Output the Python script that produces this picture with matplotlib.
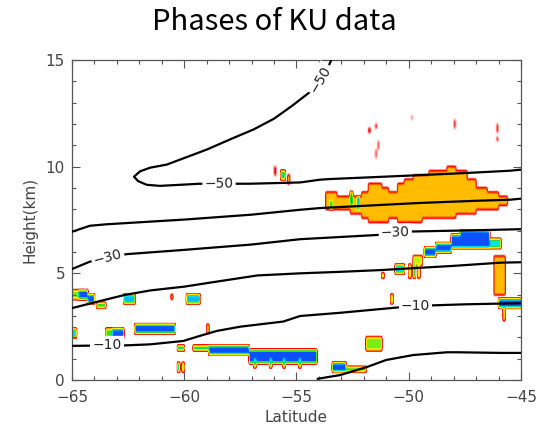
import numpy as np
import matplotlib
matplotlib.use("Agg")
import matplotlib.pyplot as plt
from matplotlib.colors import LinearSegmentedColormap
from matplotlib.ticker import MultipleLocator

# ---------------------------------------------------------------------------
# Phase field: rectangles (lat0, lat1, h0, h1, phase value)
# phase value: 0.3 = ice (orange), 1.0 = liquid (blue), in-between = mixed
# ---------------------------------------------------------------------------
blob_lat0 = [-65.0, -64.7, -64.3, -63.9, -62.7, -60.6, -59.9, -65.0,
             -63.5, -63.2, -62.2, -59.0, -60.3, -59.6, -58.9, -57.1,
             -60.3, -60.1, -53.4, -52.8, -51.9, -51.2, -50.8, -50.6,
             -50.0, -49.8, -49.6, -49.8, -49.3, -48.8, -48.1, -47.7,
             -46.4, -46.2, -46.0, -45.8, -56.0, -55.7, -55.4,
             -51.5, -51.8, -51.4, -51.5, -48.0, -46.1, -46.1, -49.9,
             -53.5, -52.6, -52.3, -56.9, -56.2, -55.6, -54.9]
blob_lat1 = [-64.7, -64.3, -64.0, -63.5, -62.2, -60.5, -59.3, -64.8,
             -63.2, -62.7, -60.4, -58.9, -60.0, -58.9, -57.1, -54.1,
             -60.2, -60.0, -52.8, -51.9, -51.2, -51.1, -50.7, -50.2,
             -49.9, -49.7, -49.5, -49.4, -48.8, -48.1, -47.7, -46.4,
             -45.9, -45.7, -45.0, -45.7, -55.9, -55.5, -55.3,
             -51.4, -51.7, -51.3, -51.4, -47.9, -46.0, -46.0, -49.8,
             -53.4, -52.5, -52.2, -56.8, -56.1, -55.5, -54.8]
blob_h0 = [3.90, 3.90, 3.65, 3.40, 3.60, 3.80, 3.60, 2.00,
           2.00, 2.00, 2.20, 2.20, 1.40, 1.40, 1.20, 0.80,
           0.40, 0.40, 0.40, 0.40, 1.40, 4.80, 3.60, 5.00,
           4.80, 4.80, 4.80, 5.40, 5.80, 6.00, 6.20, 6.25,
           6.20, 4.00, 3.40, 2.80, 9.60, 9.40, 9.20,
           11.80, 11.60, 10.80, 10.40, 11.80, 11.60, 11.20, 12.20,
           8.00, 8.20, 8.00, 0.60, 0.60, 0.60, 0.60]
blob_h1 = [4.20, 4.20, 3.95, 3.60, 4.00, 4.00, 4.00, 2.40,
           2.40, 2.40, 2.60, 2.60, 1.60, 1.60, 1.60, 1.40,
           0.80, 0.80, 0.80, 0.60, 2.00, 5.00, 4.00, 5.40,
           5.40, 5.40, 5.40, 5.80, 6.20, 6.40, 6.80, 6.95,
           6.60, 5.80, 3.80, 3.40, 10.00, 9.90, 9.60,
           12.00, 11.80, 11.20, 10.80, 12.20, 12.00, 11.40, 12.40,
           8.40, 8.80, 8.60, 1.00, 1.00, 1.00, 1.00]
blob_val = [0.55, 1.00, 1.00, 0.75, 0.85, 0.30, 0.85, 0.80,
            0.60, 1.00, 1.00, 0.40, 0.80, 0.75, 1.00, 1.00,
            0.70, 0.60, 1.00, 0.70, 0.55, 0.60, 0.60, 0.80,
            0.60, 0.65, 0.55, 0.50, 1.00, 1.00, 1.00, 1.00,
            0.80, 0.30, 1.00, 0.40, 0.15, 0.70, 0.30,
            0.12, 0.20, 0.08, 0.08, 0.10, 0.10, 0.10, 0.06,
            0.80, 0.90, 0.90, 0.70, 0.70, 0.70, 0.70]

# ice cloud between 7.5 and 10 km, given as columns (lat0, lat1, base, top)
ice_lat0 = [-53.7, -53.2, -52.6, -52.1, -51.8, -51.5, -51.2, -50.9, -50.5, -50.2,
            -49.8, -49.4, -49.1, -48.7, -48.3, -47.9, -47.4, -47.0, -46.5, -46.0]
ice_lat1 = [-53.2, -52.6, -52.1, -51.8, -51.5, -51.2, -50.9, -50.5, -50.2, -49.8,
            -49.4, -49.1, -48.7, -48.3, -47.9, -47.4, -47.0, -46.5, -46.0, -45.6]
ice_base = [8.0, 8.0, 7.9, 7.6, 7.5, 7.5, 7.5, 7.6, 7.5, 7.5,
            7.5, 7.6, 7.7, 7.7, 7.7, 7.8, 7.9, 8.0, 8.1, 8.2]
ice_top = [8.8, 8.7, 8.7, 8.9, 9.2, 9.3, 9.1, 8.8, 9.3, 9.5,
           9.6, 9.7, 9.9, 9.9, 10.0, 9.8, 9.4, 9.1, 8.9, 8.7]
ICE = 0.30

# ---------------------------------------------------------------------------
# Temperature isolines (deg C): latitude / height pairs
# ---------------------------------------------------------------------------
t_m50_lat = [-53.45, -53.60, -53.95, -54.40, -55.20, -56.00, -56.90, -57.80,
             -59.00, -60.19, -60.77, -61.53, -61.97, -62.24, -62.05, -61.67,
             -61.08, -59.30, -57.66, -57.07, -54.84, -53.95, -53.50, -50.00,
             -47.50, -45.49, -45.00]
t_m50_h = [15.00, 14.65, 14.10, 13.50, 12.85, 12.25, 11.75, 11.35,
           10.80, 10.33, 10.10, 9.95, 9.78, 9.53, 9.32, 9.15,
           9.10, 9.20, 9.20, 9.20, 9.26, 9.39, 9.42, 9.58,
           9.70, 9.81, 9.86]
t_m40_lat = [-65.00, -64.20, -63.45, -60.00, -57.00, -54.84, -53.95, -49.50, -47.00, -45.50, -45.00]
t_m40_h = [6.95, 7.23, 7.30, 7.52, 7.75, 7.98, 8.06, 8.30, 8.40, 8.45, 8.50]
t_m30_lat = [-65.00, -64.20, -63.40, -62.56, -60.00, -57.00, -54.84, -51.37, -49.87, -47.00, -45.00]
t_m30_h = [5.20, 5.55, 5.73, 5.90, 6.10, 6.35, 6.60, 6.80, 6.96, 7.02, 7.07]
t_m20_lat = [-65.00, -63.83, -62.64, -61.50, -59.97, -59.00, -56.75, -54.84, -53.06, -51.30, -48.00, -45.90, -45.00]
t_m20_h = [3.37, 3.68, 3.99, 4.20, 4.38, 4.54, 4.90, 5.00, 5.07, 5.15, 5.35, 5.50, 5.52]
t_m10_lat = [-65.00, -63.44, -62.70, -61.53, -60.04, -59.30, -58.55, -57.50, -55.59, -54.84,
             -53.06, -50.50, -49.70, -48.90, -47.40, -45.00]
t_m10_h = [1.60, 1.62, 1.62, 1.67, 1.83, 2.07, 2.30, 2.50, 2.74, 3.00,
           3.15, 3.40, 3.45, 3.50, 3.55, 3.60]
t_0_lat = [-54.10, -53.06, -51.86, -51.00, -49.80, -48.30, -47.85, -45.90, -45.00]
t_0_h = [0.05, 0.23, 0.61, 0.94, 1.17, 1.30, 1.30, 1.27, 1.27]

# isoline labels: text, lat, height, rotation
lab_text = ["\u221250", "\u221250", "\u221230", "\u221230", "\u221210", "\u221210"]
lab_lat = [-58.45, -53.95, -63.40, -50.60, -63.44, -49.70]
lab_h = [9.20, 14.10, 5.73, 6.90, 1.62, 3.45]
lab_rot = [1, 60, 15, 2, 0, 0]

# tick labels
x_ticks = [-65, -60, -55, -50, -45]
y_ticks = [0, 5, 10, 15]

# ---------------------------------------------------------------------------
# Rasterise the phase field on range-bin cells, then interpolate bilinearly
# ---------------------------------------------------------------------------
DLAT, DH = 0.1, 0.2
lat_c = -65.0 + DLAT * (np.arange(200) + 0.5)
h_c = DH * (np.arange(75) + 0.5)
field = np.zeros((h_c.size, lat_c.size))


def fill(l0, l1, z0, z1, v):
    cols = (lat_c >= l0 - 1e-6) & (lat_c < l1 - 1e-6)
    rows = (h_c >= z0 - 1e-6) & (h_c < z1 - 1e-6)
    field[np.ix_(rows, cols)] = v


for l0, l1, z0, z1 in zip(ice_lat0, ice_lat1, ice_base, ice_top):
    fill(l0, l1, z0, z1, ICE)
for l0, l1, z0, z1, v in zip(blob_lat0, blob_lat1, blob_h0, blob_h1, blob_val):
    fill(l0, l1, z0, z1, v)

# one output sample per screen pixel of the axes
NX, NY = 449, 320
lat_f = -65.0 + 20.0 * (np.arange(NX) + 0.5) / NX
h_f = 15.0 * (np.arange(NY) + 0.5) / NY
tmp = np.array([np.interp(h_f, h_c, field[:, i], left=0, right=0) for i in range(lat_c.size)]).T
fine = np.array([np.interp(lat_f, lat_c, tmp[j], left=tmp[j, 0], right=tmp[j, -1]) for j in range(NY)])

phase_cmap = LinearSegmentedColormap.from_list(
    "phase",
    [(0.00, "#ffffff"), (0.12, "#ff0000"), (0.30, "#ffbf00"), (0.45, "#ffff00"),
     (0.62, "#22dd22"), (0.80, "#00e0ff"), (1.00, "#0a50ff")])

# ---------------------------------------------------------------------------
# Figure
# ---------------------------------------------------------------------------
fig = plt.figure(figsize=(5.49, 4.32), dpi=100)
ax = fig.add_axes([72 / 549, 52 / 432, 449 / 549, 320 / 432])

ax.imshow(fine, origin="lower", extent=[-65, -45, 0, 15], aspect="auto",
          cmap=phase_cmap, vmin=0, vmax=1, interpolation="nearest", zorder=1)

for lats, hs in [(t_m50_lat, t_m50_h), (t_m40_lat, t_m40_h), (t_m30_lat, t_m30_h),
                 (t_m20_lat, t_m20_h), (t_m10_lat, t_m10_h), (t_0_lat, t_0_h)]:
    ax.plot(lats, hs, color="black", lw=1.6, zorder=3, solid_capstyle="butt")

for t, la, hh, r in zip(lab_text, lab_lat, lab_h, lab_rot):
    ax.text(la, hh, t, rotation=r, rotation_mode="anchor", ha="center", va="center",
            fontsize=10, color="#222222", zorder=4,
            bbox=dict(fc="white", ec="none", pad=1.5))

ax.set_xlim(-65, -45)
ax.set_ylim(0, 15)
ax.set_xticks(x_ticks)
ax.set_yticks(y_ticks)
ax.xaxis.set_minor_locator(MultipleLocator(1))
ax.yaxis.set_minor_locator(MultipleLocator(1))
ax.tick_params(which="both", direction="in", top=True, right=True,
               color="#555555", labelcolor="#444444", width=0.8)
ax.tick_params(which="major", length=5.5, labelsize=11)
ax.tick_params(axis="x", which="major", pad=7)
ax.tick_params(axis="y", which="major", pad=5)
ax.tick_params(which="minor", length=3)
for s in ax.spines.values():
    s.set_color("#555555")
    s.set_linewidth(0.9)

ax.set_xlabel("Latitude", fontsize=11, color="#444444", labelpad=4)
ax.set_ylabel("Height(km)", fontsize=11, color="#444444", labelpad=6)

fig.text(0.5, 1 - 22 / 432, "Phases of KU data", ha="center", va="center",
         fontsize=21, family=["Noto Sans CJK KR", "DejaVu Sans"])

fig.savefig("out.png", dpi=100)
